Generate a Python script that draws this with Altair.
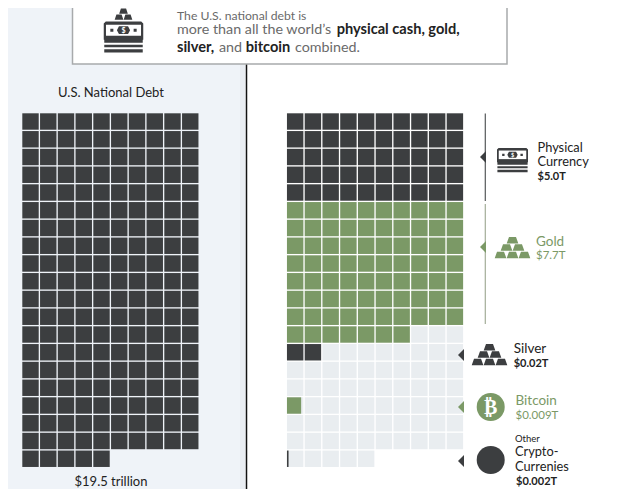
import altair as alt
import pandas as pd

# ---- values
DARK = "#3c3e40"; GREEN = "#7b9966"; LIGHT = "#e9edf0"
total_cells = 195
physical_cells = 50
gold_cells = 77
silver_cells = 2
bitcoin_fraction = 0.8
crypto_fraction = 0.09
bitcoin_cell = (16, 0)
crypto_cell = (19, 0)
silver_row = 13
cols = 10
right_offset = 14.91
PITCH = 17.75
W, H = 609, 481


def px(v):
    return v - 8


rows = []
for i in range(total_cells):
    rows.append(dict(col=i % cols, row=i // cols, kind="debt"))
    off = right_offset
    if i < physical_cells:
        k = "dark"
    elif i < physical_cells + gold_cells:
        k = "green"
    else:
        k = "light"
    rows.append(dict(col=i % cols + off, row=i // cols, kind=k))
for c in range(silver_cells):
    rows.append(dict(col=c + right_offset, row=silver_row, kind="dark"))
cells = pd.DataFrame(rows)
cells["col2"] = cells["col"] + 0.925
cells["row2"] = cells["row"] + 0.925

parts = pd.DataFrame([
    dict(col=right_offset, row=bitcoin_cell[0], col2=right_offset + bitcoin_fraction, row2=bitcoin_cell[0] + .925, kind="green"),
    dict(col=right_offset, row=crypto_cell[0], col2=right_offset + crypto_fraction, row2=crypto_cell[0] + .925, kind="dark"),
])

xs = alt.Scale(domain=[-14.3 / PITCH, (W - 14.3) / PITCH])
ys = alt.Scale(domain=[-105.3 / PITCH, (H - 105.3) / PITCH], range=[0, H])
cs = alt.Scale(domain=["debt", "dark", "green", "light"], range=[DARK, DARK, GREEN, LIGHT])


def waffle(df):
    return alt.Chart(df).mark_rect().encode(
        x=alt.X("col:Q", scale=xs, axis=None),
        x2="col2:Q",
        y=alt.Y("row:Q", scale=ys, axis=None),
        y2="row2:Q",
        color=alt.Color("kind:N", scale=cs, legend=None),
    )


ONE = {"values": [{}]}


def box(x0, x1, y0, y1, fill, stroke=None):
    kw = dict(fill=fill)
    if stroke:
        kw.update(stroke=stroke, strokeWidth=1.5)
    return alt.Chart(ONE).mark_rect(**kw).encode(
        x=alt.value(px(x0)), x2=alt.value(px(x1)), y=alt.value(px(y0)), y2=alt.value(px(y1)))


def vrule(x, y0, y1, color, w=1.2):
    return alt.Chart(ONE).mark_rule(color=color, strokeWidth=w).encode(
        x=alt.value(px(x)), y=alt.value(px(y0)), y2=alt.value(px(y1)))


def shape(path, color="#3c3e40"):
    return alt.Chart(ONE).mark_point(shape=path, filled=True, size=4, color=color, opacity=1, strokeWidth=0).encode(
        x=alt.value(0), y=alt.value(0))


def poly(pts):
    return "M" + " L".join(f"{px(x):.2f},{px(y):.2f}" for x, y in pts) + " Z"


def txt(s, x, y, size=13, color="#222222", weight=400, align="left", font="Lato"):
    return alt.Chart(ONE).mark_text(text=s, font=font, fontSize=size, color=color, fontWeight=weight,
                                    align=align, baseline="alphabetic").encode(
        x=alt.value(px(x)), y=alt.value(px(y)))


def pile(cx, top, w, h, color, levels=(1, 2, 3)):
    bar_h = h / len(levels) - 0.8
    pitch = w / 3 + 0.3
    bw = w / 3
    out = []
    for r, n in enumerate(levels):
        t = top + r * (bar_h + 0.8)
        for b in range(n):
            c = cx + (b - (n - 1) / 2) * pitch
            out.append(poly([(c - bw * .3, t), (c + bw * .3, t), (c + bw * .5, t + bar_h), (c - bw * .5, t + bar_h)]))
    return shape(" ".join(out), color)


def note(cx, top, width):
    k = width / 39
    l = cx - width / 2
    r = cx + width / 2
    h = 18 * k
    lines = []
    for a, b in [(18, 21), (23, 25.5), (27.5, 30.5)]:
        lines.append(poly([(l + .5 * k, top + a * k), (r - .5 * k, top + a * k), (r - .5 * k, top + b * k), (l + .5 * k, top + b * k)]))
    outer = poly([(l, top + 2 * k), (l + 2 * k, top), (r - 2 * k, top), (r, top + 2 * k), (r, top + h), (l, top + h)])
    inner = poly([(l + 2.2 * k, top + 3.2 * k), (r - 2.2 * k, top + 3.2 * k), (r - 2.2 * k, top + 14 * k), (l + 2.2 * k, top + 14 * k)])
    cy = top + 8.6 * k
    oval = poly([(cx - 6.5 * k, cy), (cx - 4.5 * k, cy - 3.8 * k), (cx + 4.5 * k, cy - 3.8 * k), (cx + 6.5 * k, cy),
                 (cx + 4.5 * k, cy + 3.8 * k), (cx - 4.5 * k, cy + 3.8 * k)])
    d = 1.5 * k
    dots = " ".join(poly([(x - d, cy - d), (x + d, cy - d), (x + d, cy + d), (x - d, cy + d)]) for x in (cx - 11.5 * k, cx + 11.5 * k))
    return [shape(outer + " " + " ".join(lines)), shape(inner, "#ffffff"), shape(oval + " " + dots),
            txt("$", cx, cy + 2.5 * k, 7 * k, "#ffffff", 700, "center")]


def arrow(x_tip, cy, color):
    return shape(poly([(x_tip, cy), (x_tip + 6, cy - 6), (x_tip + 6, cy + 6)]), color)


def disc(cx, cy, r, color):
    return alt.Chart(ONE).mark_point(shape="circle", filled=True, size=(2 * r) ** 2, color=color, opacity=1, strokeWidth=0).encode(
        x=alt.value(px(cx)), y=alt.value(px(cy)))


layers = [
    box(0, 240, 0, 497, "#eff3f8"),
    box(240, 245.5, 0, 497, "#e9edf2"),
    vrule(246.5, 60, 497, "#111111", 1.5),
    box(72.5, 507, -4, 64, "#ffffff", "#a8aaac"),
    waffle(cells),
    waffle(parts),
    pile(123.5, 8.5, 26, 12, DARK, (1, 2)),
    *note(123.5, 21.5, 39.5),
    txt("The U.S. national debt is", 177, 19.5, 12.2, "#6a6a6a", 400),
    txt("more than all the world\u2019s", 177, 33.5, 14.3, "#6a6a6a", 400),
    txt("physical cash, gold,", 336.7, 33.5, 14.6, "#222222", 700),
    txt("silver,", 177, 51.5, 14.6, "#222222", 700),
    txt("and", 219, 51.5, 14.3, "#6a6a6a", 400),
    txt("bitcoin", 245.7, 51.5, 14.6, "#222222", 700),
    txt("combined.", 295, 51.5, 14.3, "#6a6a6a", 400),
    txt("U.S. National Debt", 111, 97, 13, "#222222", 400, "center"),
    txt("$19.5 trillion", 111, 486, 13, "#222222", 400, "center"),
    vrule(485.3, 113.5, 201, "#55585a"),
    vrule(485.3, 204, 324, "#a3ad98"),
    arrow(480, 157, DARK),
    *note(512.5, 148, 31),
    txt("Physical", 537.5, 151.5, 12.8),
    txt("Currency", 537.5, 165.5, 12.8),
    txt("$5.0T", 537.5, 179.5, 11, "#222222", 700),
    arrow(480, 247, GREEN),
    pile(512.5, 237, 35, 22, GREEN),
    txt("Gold", 536, 245.5, 13.5, GREEN),
    txt("$7.7T", 536, 258.5, 11.5, GREEN),
    arrow(458, 355, DARK),
    pile(489.5, 344, 35, 22, DARK),
    txt("Silver", 513.7, 353, 13.5),
    txt("$0.02T", 513.7, 366.5, 11, "#222222", 700),
    arrow(458, 407, GREEN),
    disc(490.7, 407, 14, GREEN),
    txt("\u20bf", 490.7, 414, 20, "#ffffff", 700, "center", "DejaVu Sans"),
    txt("Bitcoin", 515.5, 405, 13.5, GREEN),
    txt("$0.009T", 515.5, 418.5, 11.5, GREEN),
    arrow(458, 461, DARK),
    disc(490.7, 460, 14, DARK),
    txt("Other", 515, 442, 9.5),
    txt("Crypto-", 515, 456.2, 12.8),
    txt("Currenies", 515, 470.7, 12.8),
    txt("$0.002T", 516, 485, 11, "#222222", 700),
]

chart = alt.layer(*layers).properties(
    width=W, height=H, padding=0, autosize=alt.AutoSizeParams(type="none"), background="#ffffff"
).configure_view(stroke=None)

chart.save("out.html", embed_options={"renderer": "svg", "actions": False})
